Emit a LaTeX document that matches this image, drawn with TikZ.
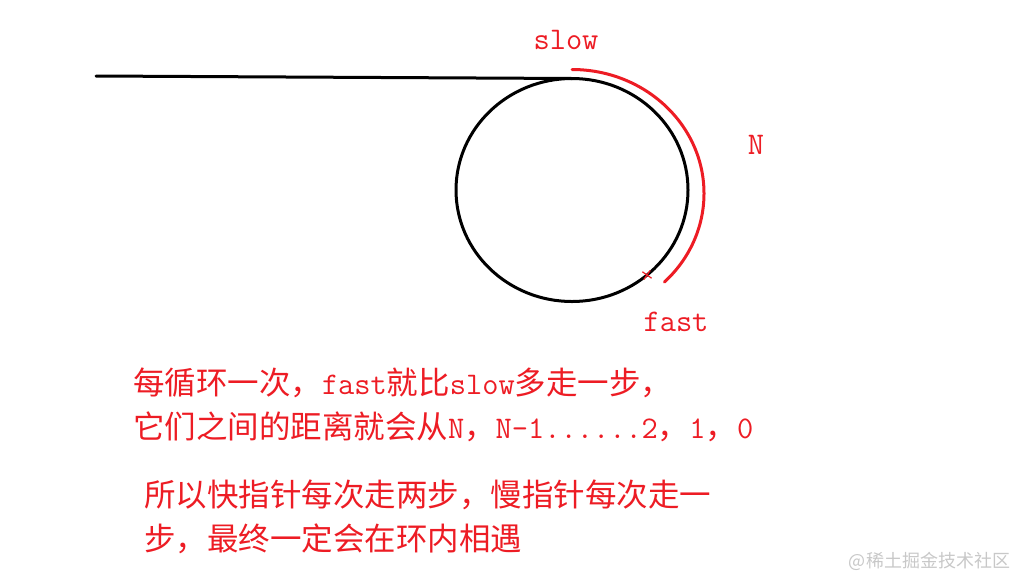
\documentclass[tikz,border=0pt]{standalone}
\usepackage{fontspec}
\newfontfamily\cjk{Noto Sans CJK SC}
\usetikzlibrary{shapes.geometric,shapes.misc,positioning}
\definecolor{paintred}{HTML}{ED1C24}
\definecolor{markgray}{HTML}{C8C8C8}

\begin{document}
\begin{tikzpicture}
    [
        x=1pt, y=-1pt,
        wire/.style={line width=3pt, line cap=round},
        note/.style={text=paintred, inner sep=0pt, anchor=base west, font=\fontsize{31.5}{36}\selectfont\cjk},
        tag/.style={text=paintred, inner sep=0pt, font=\fontsize{31.5}{36}\selectfont\ttfamily},
        every node/.style={outer sep=0pt}
    ]
    \useasboundingbox (0,0) rectangle (1016,576);

    % list and loop
    \node[ellipse, draw, wire, minimum width=232pt, minimum height=223pt, inner sep=0pt] (loop) at (572,190) {};
    \coordinate (tail) at (96,76);
    \draw[wire] (tail) -- (loop.north);

    % distance slow -> fast
    \coordinate (slowpt) at ([yshift=9pt]loop.north);
    \draw[wire, paintred] (slowpt) arc[start angle=90, end angle=-45.6, x radius=132pt, y radius=124pt] coordinate (fastend);
    \node[cross out, draw=paintred, line width=1.2pt, minimum size=8pt, inner sep=0pt, rotate=10] (meet) at (647,275) {};

    \node[tag] (slow) at (566,40) {slow};
    \node[tag] (dist) at (756,145) {N};
    \node[tag] (fast) at (676,322) {fast};

    % explanation
    \node[note] (line1) at (133,394) {每循环一次，{\ttfamily fast}就比{\ttfamily slow}多走一步，};
    \node[note] (line2) at (133,438) {它们之间的距离就会从{\ttfamily N}，{\ttfamily N-1......2}，{\ttfamily 1}，{\ttfamily 0}};
    \node[note] (line3) at (144,506) {所以快指针每次走两步，慢指针每次走一};
    \node[note] (line4) at (144,550) {步，最终一定会在环内相遇};

    \node[text=markgray, inner sep=0pt, anchor=base east, font=\fontsize{18}{20}\selectfont\cjk] (mark) at (1010,567) {@稀土掘金技术社区};
\end{tikzpicture}
\end{document}
